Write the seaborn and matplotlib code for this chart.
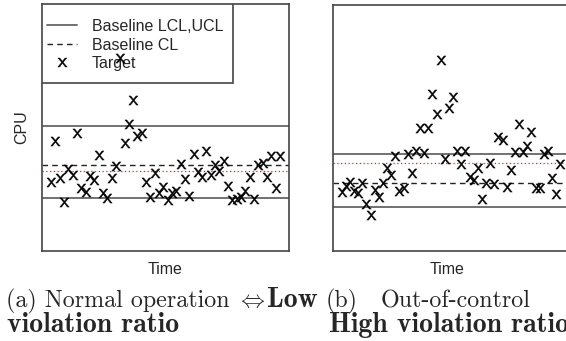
import matplotlib
matplotlib.use("Agg")
import matplotlib.pyplot as plt
from matplotlib.lines import Line2D
from matplotlib.patches import Rectangle
import pandas as pd
import seaborn as sns

# ── data (CPU, arbitrary 0-100 scale) ──────────────────────────────────────
normal_cpu = [28.1, 44.5, 29.4, 19.8, 33.2, 30.8, 47.8, 25.5, 23.9, 30.4,
              28.7, 38.9, 23.5, 21.5, 29.6, 34.4, 78.1, 43.7, 51.4, 61.1,
              46.6, 47.8, 27.9, 21.9, 31.6, 23.5, 25.9, 20.6, 23.5, 24.3,
              35.2, 29.1, 22.3, 39.3, 32.0, 30.0, 40.5, 30.8, 34.8, 32.4,
              36.4, 26.3, 20.6, 21.1, 21.9, 24.3, 30.0, 21.1, 34.8, 35.6,
              30.0, 38.5, 25.5, 38.5]
normal_lcl, normal_ucl, normal_cl, normal_mean = 21.5, 50.6, 34.8, 32.4

fault_cpu = [24.1, 26.5, 28.2, 24.5, 23.7, 27.8, 19.1, 14.6, 24.8, 21.8,
             27.8, 33.9, 30.9, 38.6, 24.5, 25.5, 39.4, 31.8, 40.8, 49.9,
             39.7, 49.9, 63.7, 55.6, 77.6, 37.3, 58.0, 62.5, 40.8, 35.4,
             40.8, 30.2, 28.9, 33.9, 21.0, 27.8, 35.7, 27.1, 46.5, 45.1,
             25.9, 32.9, 40.4, 51.5, 40.4, 42.8, 48.5, 25.5, 25.5, 39.3,
             40.8, 29.6, 23.2, 35.4]
fault_lcl, fault_ucl, fault_cl, fault_mean = 17.9, 39.4, 27.6, 35.8

legend_labels = ["Baseline LCL,UCL", "Baseline CL", "Target"]

sns.set_theme(style="white")
plt.rcParams["font.family"] = ["Liberation Sans", "DejaVu Sans"]
plt.rcParams["mathtext.fontset"] = "cm"

W, H = 566, 341
MARK = r"$\mathsf{x}$"
FS = 11.5


def px_box(x0, y0, x1, y1):
    # pixel box -> figure fraction rect
    return [x0 / W, 1 - y1 / H, (x1 - x0) / W, (y1 - y0) / H]


def draw_panel(ax, cpu, lcl, ucl, cl, mean):
    df = pd.DataFrame({"t": range(len(cpu)), "cpu": cpu})
    sns.scatterplot(data=df, x="t", y="cpu", ax=ax, marker=MARK, s=46,
                    color="black", linewidth=0.3, edgecolor="black", zorder=6)
    for y in (lcl, ucl):
        ax.axhline(y, color="#666666", lw=1.3, zorder=2)
    ax.axhline(cl, color="#222222", lw=1.0, ls=(0, (4, 3)), zorder=2)
    ax.axhline(mean, color="#ee2222", lw=0.9, ls=(0, (1, 2)), zorder=2)
    ax.set_xlim(-2.12, len(cpu) - 1 + 2.12)
    ax.set_ylim(0, 100)
    ax.set_xticks([])
    ax.set_yticks([])
    ax.set_xlabel("")
    ax.set_ylabel("")
    for sp in ax.spines.values():
        sp.set_color("#444444")
        sp.set_linewidth(1.2)


fig = plt.figure(figsize=(W / 100, H / 100), dpi=100)
ax1 = fig.add_axes(px_box(42, 4, 289, 251))
ax2 = fig.add_axes(px_box(333, 5, 569, 251))

draw_panel(ax1, normal_cpu, normal_lcl, normal_ucl, normal_cl, normal_mean)
draw_panel(ax2, fault_cpu, fault_lcl, fault_ucl, fault_cl, fault_mean)

# legend box drawn by hand (R style, flush with the corner)
ax1.add_patch(Rectangle((0, (251 - 83) / 247), (233 - 42) / 247, (83 - 4) / 247,
                        transform=ax1.transAxes, facecolor="white",
                        edgecolor="#444444", lw=1.2, zorder=4))
handles = [Line2D([], [], color="#666666", lw=1.3),
           Line2D([], [], color="#222222", lw=1.0, ls=(0, (4, 3))),
           Line2D([], [], color="black", marker=MARK, ls="none", ms=6.7,
                  markeredgewidth=0.3)]
leg = ax1.legend(handles, legend_labels, loc="upper left",
                 bbox_to_anchor=((47 - 42) / 247, (251 - 19) / 247),
                 frameon=False, borderpad=0, borderaxespad=0,
                 handlelength=1.9, handletextpad=0.9, labelspacing=0.22,
                 fontsize=FS)
leg.set_zorder(5)

ax1.set_ylabel("CPU", fontsize=FS)
ax1.yaxis.set_label_coords((22 - 42) / 247, 0.5)
ax1.yaxis.label.set_va("center")

fig.text(165.5 / W, 1 - 270 / H, "Time", ha="center", va="center", fontsize=FS)
fig.text(447 / W, 1 - 270 / H, "Time", ha="center", va="center", fontsize=FS)

# captions (Computer Modern look), placed on their baselines
CAP, CAPB = 17.3, 20
L1, L2 = 1 - 307 / H, 1 - 332 / H
fig.text(6 / W, L1, "(a) Normal operation", family="cmr10", fontsize=CAP,
         va="baseline", ha="left")
fig.text(251 / W, L1, r"$\Leftrightarrow$", fontsize=CAP, va="baseline",
         ha="center")
fig.text(267 / W, L1, "Low", family="cmb10", fontsize=CAPB, va="baseline",
         ha="left")
fig.text(7 / W, L2, "violation ratio", family="cmb10", fontsize=CAPB,
         va="baseline", ha="left")
fig.text(326 / W, L1, "(b)", family="cmr10", fontsize=CAP, va="baseline",
         ha="left")
fig.text(381 / W, L1, "Out-of-control", family="cmr10", fontsize=CAP,
         va="baseline", ha="left")
fig.text(329 / W, L2, "High violation ratio", family="cmb10", fontsize=CAPB,
         va="baseline", ha="left")

fig.savefig("out.png", dpi=100)
